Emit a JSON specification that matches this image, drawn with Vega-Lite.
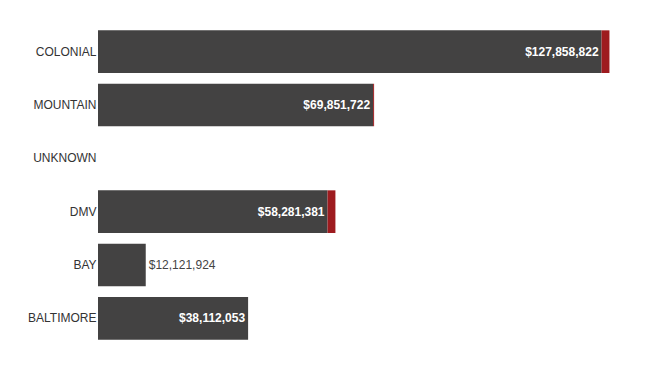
{
  "$schema": "https://vega.github.io/schema/vega-lite/v6.json",
  "width": 512,
  "height": 320,
  "autosize": {"type": "none"},
  "padding": {"left": 98, "top": 25, "right": 0, "bottom": 0},
  "background": "white",
  "config": {"view": {"stroke": null}, "font": "Liberation Sans"},
  "data": {"values": [
    {"region": "COLONIAL", "dark": 127858822, "red": 2000000},
    {"region": "MOUNTAIN", "dark": 69851722, "red": 250000},
    {"region": "UNKNOWN", "dark": 0, "red": 0},
    {"region": "DMV", "dark": 58281381, "red": 2000000},
    {"region": "BAY", "dark": 12121924, "red": 0},
    {"region": "BALTIMORE", "dark": 38112053, "red": 0}
  ]},
  "encoding": {
    "y": {
      "field": "region", "type": "nominal",
      "sort": ["COLONIAL", "MOUNTAIN", "UNKNOWN", "DMV", "BAY", "BALTIMORE"],
      "scale": {"paddingInner": 0.2, "paddingOuter": 0.1},
      "axis": {"title": null, "domain": false, "ticks": false, "labelPadding": 2, "labelFontSize": 12, "labelColor": "#333333", "labelFont": "Liberation Sans"}
    }
  },
  "layer": [
    {
      "transform": [{"fold": ["dark", "red"], "as": ["seg", "amount"]}],
      "mark": {"type": "bar"},
      "encoding": {
        "x": {"field": "amount", "type": "quantitative", "stack": "zero", "scale": {"domain": [0, 130000000]}, "axis": null},
        "color": {"field": "seg", "type": "nominal", "scale": {"domain": ["dark", "red"], "range": ["#434242", "#9e1b1f"]}, "legend": null},
        "order": {"field": "seg", "sort": "ascending"}
      }
    },
    {
      "transform": [{"filter": "datum.dark >= 20000000"}],
      "mark": {"type": "text", "align": "right", "baseline": "middle", "dx": -3, "color": "white", "fontWeight": "bold", "fontSize": 12, "font": "Liberation Sans"},
      "encoding": {
        "x": {"field": "dark", "type": "quantitative"},
        "text": {"field": "dark", "type": "quantitative", "format": "$,.0f"}
      }
    },
    {
      "transform": [{"filter": "datum.dark > 0 && datum.dark < 20000000"}],
      "mark": {"type": "text", "align": "left", "baseline": "middle", "dx": 3, "color": "#444444", "fontSize": 12, "font": "Liberation Sans"},
      "encoding": {
        "x": {"field": "dark", "type": "quantitative"},
        "text": {"field": "dark", "type": "quantitative", "format": "$,.0f"}
      }
    }
  ]
}
